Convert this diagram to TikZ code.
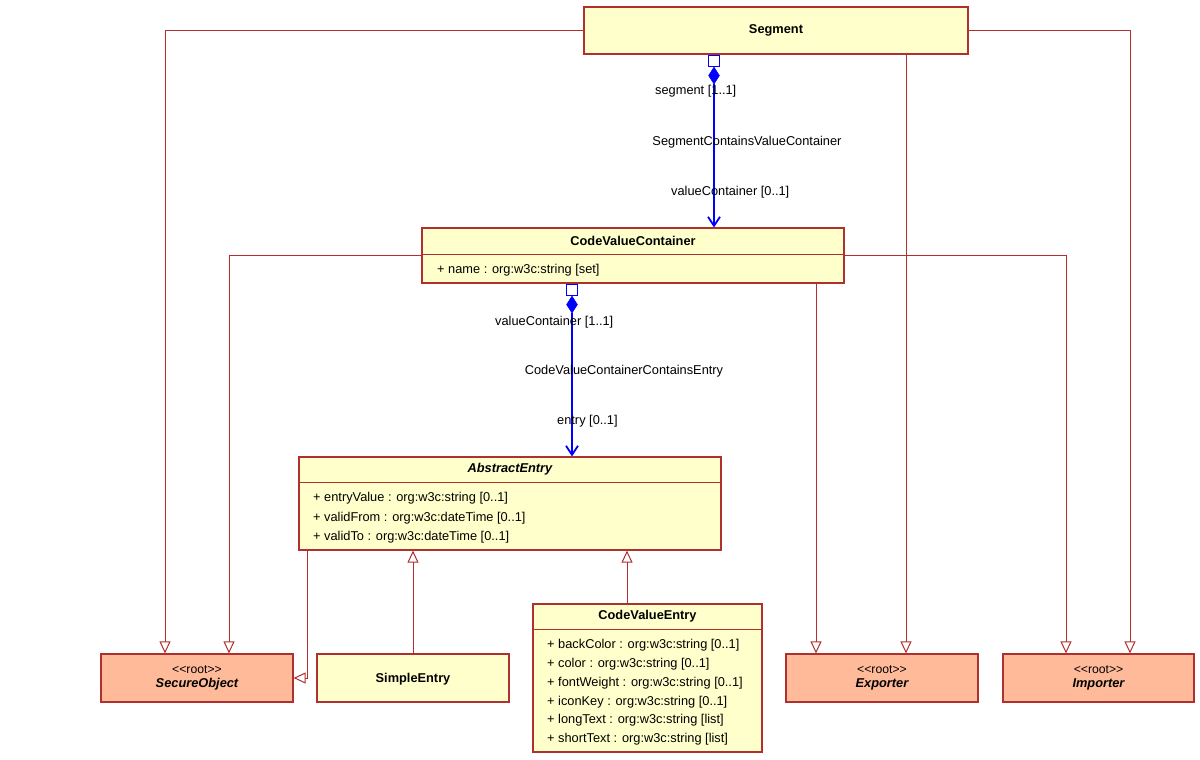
\documentclass[tikz,border=0pt]{standalone}
\usepackage{fontspec}
\setmainfont{Liberation Sans}
\usetikzlibrary{arrows.meta,shapes.geometric}
\definecolor{cfill}{RGB}{255,255,204}
\definecolor{rfill}{RGB}{255,187,153}
\definecolor{bord}{RGB}{176,48,48}
\definecolor{assoc}{RGB}{0,0,255}
\begin{document}
\begin{tikzpicture}[x=1pt,y=-1pt,
  box/.style={draw=bord, line width=1.2pt, fill=cfill, inner sep=0},
  rootbox/.style={box, fill=rfill, minimum height=48, minimum width=192},
  divider/.style={draw=bord, line width=1pt},
  txt/.style={inner sep=0, yshift=-2pt, font=\fontsize{12.8}{15}\selectfont},
  stxt/.style={txt, font=\fontsize{12.2}{15}\selectfont},
  ttl/.style={txt, font=\fontsize{12.8}{15}\selectfont\bfseries},
  ittl/.style={txt, font=\fontsize{12.8}{15}\selectfont\bfseries\itshape},
  attr/.style={txt, anchor=west},
  gen/.style={draw=bord, line width=1pt, -{Triangle[open, fill=white, length=12pt, width=11pt]}},
  comp/.style={draw=assoc, line width=1.5pt, -{Straight Barb[length=9pt, width=12pt, line width=1.8pt]}},
  sq/.style={draw=assoc, line width=1.2pt, fill=white, minimum width=11, minimum height=11, inner sep=0},
  dia/.style={diamond, fill=assoc, draw=assoc, line width=0.5pt, minimum width=11, minimum height=17, inner sep=0}
]
\fill[white] (0,0) rectangle (1200,760);
\useasboundingbox (0,0) rectangle (1200,760);

% classes
\node[box, minimum width=384, minimum height=47] (seg) at (776,30.5) {};
\node[ttl] (segt) at (776,28) {Segment};

\node[box, minimum width=422, minimum height=55] (cvc) at (633,255.5) {};
\node[ttl] (cvct) at (633,239) {CodeValueContainer};
\draw[divider] (cvc.west |- 0,254) -- (cvc.east |- 0,254);
\node[attr] (cvca) at (437,268) {+ name : org:w3c:string [set]};

\node[box, minimum width=422, minimum height=93] (ae) at (510,503.5) {};
\node[ittl] (aet) at (510,467) {AbstractEntry};
\draw[divider] (ae.west |- 0,482) -- (ae.east |- 0,482);
\node[attr] (aea1) at (313,496) {+ entryValue : org:w3c:string [0..1]};
\node[attr] (aea2) at (313,516) {+ validFrom : org:w3c:dateTime [0..1]};
\node[attr] (aea3) at (313,535) {+ validTo : org:w3c:dateTime [0..1]};

\node[box, minimum width=229, minimum height=148] (cve) at (647.5,678) {};
\node[ttl] (cvet) at (647.5,614) {CodeValueEntry};
\draw[divider] (cve.west |- 0,629) -- (cve.east |- 0,629);
\node[attr] (cvea1) at (547,643) {+ backColor : org:w3c:string [0..1]};
\node[attr] (cvea2) at (547,662) {+ color : org:w3c:string [0..1]};
\node[attr] (cvea3) at (547,681) {+ fontWeight : org:w3c:string [0..1]};
\node[attr] (cvea4) at (547,700) {+ iconKey : org:w3c:string [0..1]};
\node[attr] (cvea5) at (547,718) {+ longText : org:w3c:string [list]};
\node[attr] (cvea6) at (547,737) {+ shortText : org:w3c:string [list]};

\node[box, minimum width=192, minimum height=48] (se) at (413,678) {};
\node[ttl] (set) at (413,677) {SimpleEntry};

\node[rootbox] (so) at (197,678) {};
\node[stxt] (sos) at (197,668) {<{}<root>{}>};
\node[ittl] (son) at (197,682) {SecureObject};

\node[rootbox] (ex) at (882,678) {};
\node[stxt] (exs) at (882,668) {<{}<root>{}>};
\node[ittl] (exn) at (882,682) {Exporter};

\node[rootbox, minimum width=191] (im) at (1098.5,678) {};
\node[stxt] (ims) at (1098.5,668) {<{}<root>{}>};
\node[ittl] (imn) at (1098.5,682) {Importer};

% generalization anchors
\coordinate (so1) at ([xshift=-32]so.north);
\coordinate (so2) at ([xshift=32]so.north);
\coordinate (ex1) at ([xshift=-66]ex.north);
\coordinate (ex2) at ([xshift=24]ex.north);
\coordinate (im1) at ([xshift=-32.5]im.north);
\coordinate (im2) at ([xshift=31.5]im.north);
\coordinate (ae1) at ([xshift=9]ae.south west);
\coordinate (cve1) at ([xshift=-20.5]cve.north);

\draw[gen] (seg.west) -| (so1);
\draw[gen] (cvc.west) -| (so2);
\draw[gen] (seg.east) -| (im2);
\draw[gen] (cvc.east) -| (im1);
\draw[gen] (seg.south -| ex2) -- (ex2);
\draw[gen] (cvc.south -| ex1) -- (ex1);
\draw[gen] (ae1) |- (so.east);
\draw[gen] (se.north) -- (se.north |- ae.south);
\draw[gen] (cve1) -- (cve1 |- ae.south);

% compositions
\coordinate (c1) at ([xshift=-62]seg.south);
\node[sq, anchor=north] (sq1) at (c1) {};
\node[dia, anchor=north] (d1) at (sq1.south) {};
\draw[comp] (d1.south) -- (d1.south |- cvc.north);

\coordinate (c2) at ([xshift=-61]cvc.south);
\node[sq, anchor=north] (sq2) at (c2) {};
\node[dia, anchor=north] (d2) at (sq2.south) {};
\draw[comp] (d2.south) -- (d2.south |- ae.north);

% association labels
\node[attr] (l1) at (655,89) {segment [1..1]};
\node[txt] (l2) at (747,140) {SegmentContainsValueContainer};
\node[attr] (l3) at (671,190) {valueContainer [0..1]};
\node[attr] (l4) at (495,320) {valueContainer [1..1]};
\node[txt] (l5) at (624,369) {CodeValueContainerContainsEntry};
\node[attr] (l6) at (557,419) {entry [0..1]};
\end{tikzpicture}
\end{document}
